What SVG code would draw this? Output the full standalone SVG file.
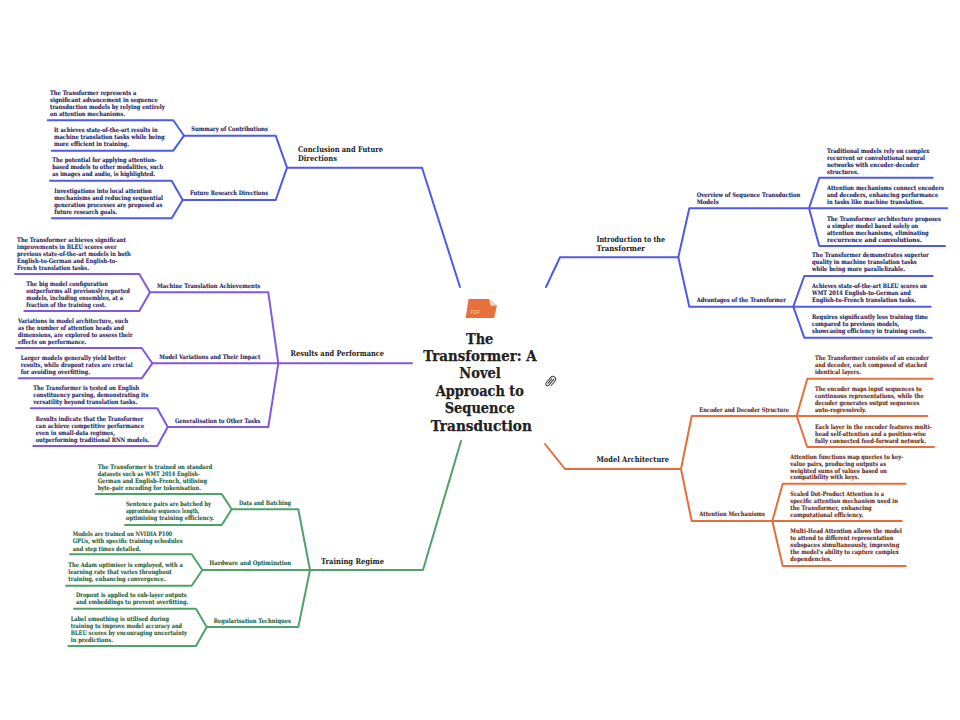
<svg xmlns="http://www.w3.org/2000/svg" width="960" height="720" viewBox="0 0 960 720">
<style>
text{font-family:"DejaVu Serif","Liberation Serif",serif;font-weight:700}
path{fill:none;stroke-linejoin:round;stroke-linecap:round}
.c-blue path{stroke:#4f5be6;stroke-width:2}
.c-purple path{stroke:#8259de;stroke-width:2}
.c-green path{stroke:#4fa269;stroke-width:2}
.c-orange path{stroke:#e56f3c;stroke-width:2}
.leaf{font-size:6.2px}
.sub{font-size:6.2px}
.main{font-size:7.8px;fill:#222}
.title{font-size:14.2px;fill:#222;stroke:#222;stroke-width:.25;text-anchor:middle}
.tb{fill:#25235f;stroke:#25235f;stroke-width:.1}
.tp{fill:#2d1f63;stroke:#2d1f63;stroke-width:.1}
.tg{fill:#1f5f3c;stroke:#1f5f3c;stroke-width:.1}
.to{fill:#65291c;stroke:#65291c;stroke-width:.1}
</style>
<rect width="960" height="720" fill="#fff"/>
<g id="connectors">
<g class="c-blue">
<path d="M460 287L422 167.7H287"/>
<path d="M287 167.7L275.7 135.7H184M287 167.7L275.7 200H182.7"/>
<path d="M47.7 120.3H173.3L184 135.7L173.3 150.7H51.7"/>
<path d="M50 180.7H171.7L182.7 200L171.7 218.3H52"/>
<path d="M546 287L560 257.3H678.3"/>
<path d="M678.3 257.3L689.3 208.3H809M678.3 257.3L689.3 306.7H793.3"/>
<path d="M932.7 177.7H819.3L809 208.3H947.3M809 208.3L819.3 246H945"/>
<path d="M932.7 276H804.3L793.3 306.7H930.7M793.3 306.7L804.3 337.7H931.7"/>
</g>
<g class="c-purple">
<path d="M412 363.3H278.3"/>
<path d="M278.3 363.3L268.3 292.3H150M278.3 363.3H152.3M278.3 363.3L268.3 427H167.7"/>
<path d="M15 274H139.3L150 292.3L139.3 311H24.3"/>
<path d="M16 348H141.7L152.3 363.3L141.7 378.3H18.7"/>
<path d="M30.7 408.3H157.3L167.7 427L157.3 446H33.3"/>
</g>
<g class="c-green">
<path d="M461 441L423 570H310"/>
<path d="M310 570L298.3 509.3H231.7M310 570H202.3M310 570L298.3 627H206.7"/>
<path d="M95.7 494H221.7L231.7 509.3L221.7 525H125"/>
<path d="M70 554.3H191.7L202.3 570L191.7 585.7H66"/>
<path d="M74 608.7H196L206.7 627L196 646H68.3"/>
</g>
<g class="c-orange">
<path d="M545 444L565 469H681"/>
<path d="M681 469L691.7 416H796.7M681 469L691.7 521H772.3"/>
<path d="M932.7 378.7H807.3L796.7 416H927.3M796.7 416L807.3 447H934"/>
<path d="M905.7 483.7H782.7L772.3 521H901.7M772.3 521L782.7 566H905.7"/>
</g>
</g>
<g id="root">
<path d="M468.5 299H489L497 305.7L494 318H465.7Z" style="fill:#e8703a"/>
<path d="M489 299L497 305.7H490.7Z" style="fill:#ecd3c8"/>
<text x="470.5" y="314" style="font-size:4.6px;fill:#f6cdb8;font-family:'Liberation Sans',sans-serif;font-weight:400;font-style:italic">PDF</text>
<text class="title" x="479.7" y="343.5" textLength="27.3" lengthAdjust="spacingAndGlyphs">The</text>
<text class="title" x="480" y="361" textLength="113.4" lengthAdjust="spacingAndGlyphs">Transformer: A</text>
<text class="title" x="480" y="378" textLength="41.4" lengthAdjust="spacingAndGlyphs">Novel</text>
<text class="title" x="479.8" y="395.5" textLength="88.3" lengthAdjust="spacingAndGlyphs">Approach to</text>
<text class="title" x="479.7" y="413" textLength="70" lengthAdjust="spacingAndGlyphs">Sequence</text>
<text class="title" x="481.3" y="430.5" textLength="101.3" lengthAdjust="spacingAndGlyphs">Transduction</text>
<path transform="translate(550.7 381.7) rotate(40) scale(.78) translate(-552 -381.7)" d="M553 377V386.5A2.3 2.3 0 0 1 548.4 386.5V377.5A3.6 3.6 0 0 1 555.6 377.5V385M550.7 378V385.5" style="stroke:#3c3c3c;stroke-width:1.3"/>
</g>
<g id="branch-conclusion">
<text class="main" x="298" y="152" textLength="85" lengthAdjust="spacingAndGlyphs">Conclusion and Future</text>
<text class="main" x="298" y="161" textLength="39" lengthAdjust="spacingAndGlyphs">Directions</text>
</g>
<g id="sub-summary">
<text class="sub tb" x="191.3" y="131" textLength="76.7" lengthAdjust="spacingAndGlyphs">Summary of Contributions</text>
<text class="leaf tb" x="50" y="95" textLength="86.3" lengthAdjust="spacingAndGlyphs">The Transformer represents a</text>
<text class="leaf tb" x="50" y="102" textLength="107.7" lengthAdjust="spacingAndGlyphs">significant advancement in sequence</text>
<text class="leaf tb" x="50" y="109" textLength="114.7" lengthAdjust="spacingAndGlyphs">transduction models by relying entirely</text>
<text class="leaf tb" x="50" y="116" textLength="75" lengthAdjust="spacingAndGlyphs">on attention mechanisms.</text>
<text class="leaf tb" x="54" y="132" textLength="103.7" lengthAdjust="spacingAndGlyphs">It achieves state-of-the-art results in</text>
<text class="leaf tb" x="54" y="139" textLength="110.7" lengthAdjust="spacingAndGlyphs">machine translation tasks while being</text>
<text class="leaf tb" x="54" y="146" textLength="75" lengthAdjust="spacingAndGlyphs">more efficient in training.</text>
</g>
<g id="sub-future">
<text class="sub tb" x="190" y="195" textLength="78" lengthAdjust="spacingAndGlyphs">Future Research Directions</text>
<text class="leaf tb" x="52.3" y="162" textLength="104.4" lengthAdjust="spacingAndGlyphs">The potential for applying attention-</text>
<text class="leaf tb" x="52.3" y="169" textLength="111" lengthAdjust="spacingAndGlyphs">based models to other modalities, such</text>
<text class="leaf tb" x="52.3" y="176" textLength="102.7" lengthAdjust="spacingAndGlyphs">as images and audio, is highlighted.</text>
<text class="leaf tb" x="54.3" y="193" textLength="97.4" lengthAdjust="spacingAndGlyphs">Investigations into local attention</text>
<text class="leaf tb" x="54.3" y="200" textLength="108.7" lengthAdjust="spacingAndGlyphs">mechanisms and reducing sequential</text>
<text class="leaf tb" x="54.3" y="207" textLength="108" lengthAdjust="spacingAndGlyphs">generation processes are proposed as</text>
<text class="leaf tb" x="54.3" y="214" textLength="62.7" lengthAdjust="spacingAndGlyphs">future research goals.</text>
</g>
<g id="branch-results">
<text class="main" x="290.5" y="356" textLength="93.5" lengthAdjust="spacingAndGlyphs">Results and Performance</text>
</g>
<g id="sub-machine">
<text class="sub tp" x="157" y="288" textLength="103.3" lengthAdjust="spacingAndGlyphs">Machine Translation Achievements</text>
<text class="leaf tp" x="17" y="241.5" textLength="109" lengthAdjust="spacingAndGlyphs">The Transformer achieves significant</text>
<text class="leaf tp" x="17" y="248.5" textLength="99.7" lengthAdjust="spacingAndGlyphs">improvements in BLEU scores over</text>
<text class="leaf tp" x="17" y="255.5" textLength="113.7" lengthAdjust="spacingAndGlyphs">previous state-of-the-art models in both</text>
<text class="leaf tp" x="17" y="262.5" textLength="100.3" lengthAdjust="spacingAndGlyphs">English-to-German and English-to-</text>
<text class="leaf tp" x="17" y="269.5" textLength="72" lengthAdjust="spacingAndGlyphs">French translation tasks.</text>
<text class="leaf tp" x="26.3" y="286" textLength="81.7" lengthAdjust="spacingAndGlyphs">The big model configuration</text>
<text class="leaf tp" x="26.3" y="293" textLength="103.7" lengthAdjust="spacingAndGlyphs">outperforms all previously reported</text>
<text class="leaf tp" x="26.3" y="300" textLength="96.7" lengthAdjust="spacingAndGlyphs">models, including ensembles, at a</text>
<text class="leaf tp" x="26.3" y="307" textLength="79.7" lengthAdjust="spacingAndGlyphs">fraction of the training cost.</text>
</g>
<g id="sub-variations">
<text class="sub tp" x="159.3" y="358.5" textLength="101" lengthAdjust="spacingAndGlyphs">Model Variations and Their Impact</text>
<text class="leaf tp" x="18" y="322.5" textLength="110.3" lengthAdjust="spacingAndGlyphs">Variations in model architecture, such</text>
<text class="leaf tp" x="18" y="329.5" textLength="106" lengthAdjust="spacingAndGlyphs">as the number of attention heads and</text>
<text class="leaf tp" x="18" y="336.5" textLength="114.7" lengthAdjust="spacingAndGlyphs">dimensions, are explored to assess their</text>
<text class="leaf tp" x="18" y="343.5" textLength="68.3" lengthAdjust="spacingAndGlyphs">effects on performance.</text>
<text class="leaf tp" x="20.7" y="360" textLength="105.3" lengthAdjust="spacingAndGlyphs">Larger models generally yield better</text>
<text class="leaf tp" x="20.7" y="367" textLength="112" lengthAdjust="spacingAndGlyphs">results, while dropout rates are crucial</text>
<text class="leaf tp" x="20.7" y="374" textLength="69.3" lengthAdjust="spacingAndGlyphs">for avoiding overfitting.</text>
</g>
<g id="sub-generalisation">
<text class="sub tp" x="175" y="422.5" textLength="85.3" lengthAdjust="spacingAndGlyphs">Generalisation to Other Tasks</text>
<text class="leaf tp" x="33.3" y="390" textLength="106" lengthAdjust="spacingAndGlyphs">The Transformer is tested on English</text>
<text class="leaf tp" x="33.3" y="397" textLength="115" lengthAdjust="spacingAndGlyphs">constituency parsing, demonstrating its</text>
<text class="leaf tp" x="33.3" y="404" textLength="104" lengthAdjust="spacingAndGlyphs">versatility beyond translation tasks.</text>
<text class="leaf tp" x="35.7" y="421" textLength="107.6" lengthAdjust="spacingAndGlyphs">Results indicate that the Transformer</text>
<text class="leaf tp" x="35.7" y="428" textLength="108.6" lengthAdjust="spacingAndGlyphs">can achieve competitive performance</text>
<text class="leaf tp" x="35.7" y="435" textLength="79.3" lengthAdjust="spacingAndGlyphs">even in small-data regimes,</text>
<text class="leaf tp" x="35.7" y="442" textLength="113.6" lengthAdjust="spacingAndGlyphs">outperforming traditional RNN models.</text>
</g>
<g id="branch-training">
<text class="main" x="321" y="563.5" textLength="63" lengthAdjust="spacingAndGlyphs">Training Regime</text>
</g>
<g id="sub-data">
<text class="sub tg" x="239" y="504.5" textLength="52" lengthAdjust="spacingAndGlyphs">Data and Batching</text>
<text class="leaf tg" x="97.7" y="469" textLength="114.6" lengthAdjust="spacingAndGlyphs">The Transformer is trained on standard</text>
<text class="leaf tg" x="97.7" y="476" textLength="102.3" lengthAdjust="spacingAndGlyphs">datasets such as WMT 2014 English-</text>
<text class="leaf tg" x="97.7" y="483" textLength="109.3" lengthAdjust="spacingAndGlyphs">German and English-French, utilising</text>
<text class="leaf tg" x="97.7" y="490" textLength="103.3" lengthAdjust="spacingAndGlyphs">byte-pair encoding for tokenisation.</text>
<text class="leaf tg" x="126" y="506" textLength="85" lengthAdjust="spacingAndGlyphs">Sentence pairs are batched by</text>
<text class="leaf tg" x="126" y="513" textLength="73.3" lengthAdjust="spacingAndGlyphs">approximate sequence length,</text>
<text class="leaf tg" x="126" y="520" textLength="88" lengthAdjust="spacingAndGlyphs">optimising training efficiency.</text>
</g>
<g id="sub-hardware">
<text class="sub tg" x="209.3" y="565" textLength="81.7" lengthAdjust="spacingAndGlyphs">Hardware and Optimization</text>
<text class="leaf tg" x="72.7" y="536" textLength="99.6" lengthAdjust="spacingAndGlyphs">Models are trained on NVIDIA P100</text>
<text class="leaf tg" x="72.7" y="543" textLength="110" lengthAdjust="spacingAndGlyphs">GPUs, with specific training schedules</text>
<text class="leaf tg" x="72.7" y="550.5" textLength="68" lengthAdjust="spacingAndGlyphs">and step times detailed.</text>
<text class="leaf tg" x="68.3" y="567" textLength="114.4" lengthAdjust="spacingAndGlyphs">The Adam optimiser is employed, with a</text>
<text class="leaf tg" x="68.3" y="574" textLength="103.4" lengthAdjust="spacingAndGlyphs">learning rate that varies throughout</text>
<text class="leaf tg" x="68.3" y="581" textLength="97.4" lengthAdjust="spacingAndGlyphs">training, enhancing convergence.</text>
</g>
<g id="sub-regularisation">
<text class="sub tg" x="213.7" y="622.5" textLength="77.3" lengthAdjust="spacingAndGlyphs">Regularisation Techniques</text>
<text class="leaf tg" x="76" y="597" textLength="110.7" lengthAdjust="spacingAndGlyphs">Dropout is applied to sub-layer outputs</text>
<text class="leaf tg" x="76" y="604" textLength="112.3" lengthAdjust="spacingAndGlyphs">and embeddings to prevent overfitting.</text>
<text class="leaf tg" x="70.7" y="620.5" textLength="98.3" lengthAdjust="spacingAndGlyphs">Label smoothing is utilised during</text>
<text class="leaf tg" x="70.7" y="627.5" textLength="111.3" lengthAdjust="spacingAndGlyphs">training to improve model accuracy and</text>
<text class="leaf tg" x="70.7" y="634.5" textLength="116.3" lengthAdjust="spacingAndGlyphs">BLEU scores by encouraging uncertainty</text>
<text class="leaf tg" x="70.7" y="641.5" textLength="42.3" lengthAdjust="spacingAndGlyphs">in predictions.</text>
</g>
<g id="branch-intro">
<text class="main" x="596.5" y="242" textLength="68.5" lengthAdjust="spacingAndGlyphs">Introduction to the</text>
<text class="main" x="596.5" y="251" textLength="48.5" lengthAdjust="spacingAndGlyphs">Transformer</text>
</g>
<g id="sub-overview">
<text class="sub tb" x="696.7" y="197" textLength="103.6" lengthAdjust="spacingAndGlyphs">Overview of Sequence Transduction</text>
<text class="sub tb" x="696.7" y="204" textLength="22" lengthAdjust="spacingAndGlyphs">Models</text>
<text class="leaf tb" x="827" y="152.5" textLength="102.3" lengthAdjust="spacingAndGlyphs">Traditional models rely on complex</text>
<text class="leaf tb" x="827" y="159.5" textLength="98" lengthAdjust="spacingAndGlyphs">recurrent or convolutional neural</text>
<text class="leaf tb" x="827" y="166.5" textLength="92" lengthAdjust="spacingAndGlyphs">networks with encoder-decoder</text>
<text class="leaf tb" x="827" y="173.5" textLength="31.7" lengthAdjust="spacingAndGlyphs">structures.</text>
<text class="leaf tb" x="827" y="190" textLength="117" lengthAdjust="spacingAndGlyphs">Attention mechanisms connect encoders</text>
<text class="leaf tb" x="827" y="197" textLength="111.3" lengthAdjust="spacingAndGlyphs">and decoders, enhancing performance</text>
<text class="leaf tb" x="827" y="204" textLength="96.7" lengthAdjust="spacingAndGlyphs">in tasks like machine translation.</text>
<text class="leaf tb" x="827" y="221" textLength="114" lengthAdjust="spacingAndGlyphs">The Transformer architecture proposes</text>
<text class="leaf tb" x="827" y="228" textLength="91.3" lengthAdjust="spacingAndGlyphs">a simpler model based solely on</text>
<text class="leaf tb" x="827" y="235" textLength="101.7" lengthAdjust="spacingAndGlyphs">attention mechanisms, eliminating</text>
<text class="leaf tb" x="827" y="242" textLength="94.7" lengthAdjust="spacingAndGlyphs">recurrence and convolutions.</text>
</g>
<g id="sub-advantages">
<text class="sub tb" x="696.7" y="302" textLength="89.3" lengthAdjust="spacingAndGlyphs">Advantages of the Transformer</text>
<text class="leaf tb" x="812" y="257" textLength="116.7" lengthAdjust="spacingAndGlyphs">The Transformer demonstrates superior</text>
<text class="leaf tb" x="812" y="264" textLength="104.7" lengthAdjust="spacingAndGlyphs">quality in machine translation tasks</text>
<text class="leaf tb" x="812" y="271" textLength="93" lengthAdjust="spacingAndGlyphs">while being more parallelizable.</text>
<text class="leaf tb" x="812" y="288" textLength="115" lengthAdjust="spacingAndGlyphs">Achieves state-of-the-art BLEU scores on</text>
<text class="leaf tb" x="812" y="295" textLength="98.7" lengthAdjust="spacingAndGlyphs">WMT 2014 English-to-German and</text>
<text class="leaf tb" x="812" y="302" textLength="104" lengthAdjust="spacingAndGlyphs">English-to-French translation tasks.</text>
<text class="leaf tb" x="812" y="319" textLength="116" lengthAdjust="spacingAndGlyphs">Requires significantly less training time</text>
<text class="leaf tb" x="812" y="326" textLength="87.3" lengthAdjust="spacingAndGlyphs">compared to previous models,</text>
<text class="leaf tb" x="812" y="333" textLength="114" lengthAdjust="spacingAndGlyphs">showcasing efficiency in training costs.</text>
</g>
<g id="branch-model">
<text class="main" x="596.5" y="462" textLength="72.5" lengthAdjust="spacingAndGlyphs">Model Architecture</text>
</g>
<g id="sub-encoder">
<text class="sub to" x="699.3" y="411.5" textLength="89.7" lengthAdjust="spacingAndGlyphs">Encoder and Decoder Structure</text>
<text class="leaf to" x="815" y="360" textLength="114" lengthAdjust="spacingAndGlyphs">The Transformer consists of an encoder</text>
<text class="leaf to" x="815" y="367" textLength="112" lengthAdjust="spacingAndGlyphs">and decoder, each composed of stacked</text>
<text class="leaf to" x="815" y="374" textLength="46" lengthAdjust="spacingAndGlyphs">identical layers.</text>
<text class="leaf to" x="815" y="391" textLength="106.7" lengthAdjust="spacingAndGlyphs">The encoder maps input sequences to</text>
<text class="leaf to" x="815" y="398" textLength="108.7" lengthAdjust="spacingAndGlyphs">continuous representations, while the</text>
<text class="leaf to" x="815" y="405" textLength="104.3" lengthAdjust="spacingAndGlyphs">decoder generates output sequences</text>
<text class="leaf to" x="815" y="412" textLength="51.3" lengthAdjust="spacingAndGlyphs">auto-regressively.</text>
<text class="leaf to" x="815" y="428.5" textLength="116.7" lengthAdjust="spacingAndGlyphs">Each layer in the encoder features multi-</text>
<text class="leaf to" x="815" y="435.5" textLength="111" lengthAdjust="spacingAndGlyphs">head self-attention and a position-wise</text>
<text class="leaf to" x="815" y="442.5" textLength="111" lengthAdjust="spacingAndGlyphs">fully connected feed-forward network.</text>
</g>
<g id="sub-attention">
<text class="sub to" x="699.3" y="516" textLength="65.7" lengthAdjust="spacingAndGlyphs">Attention Mechanisms</text>
<text class="leaf to" x="790.3" y="459" textLength="113" lengthAdjust="spacingAndGlyphs">Attention functions map queries to key-</text>
<text class="leaf to" x="790.3" y="465.7" textLength="95.7" lengthAdjust="spacingAndGlyphs">value pairs, producing outputs as</text>
<text class="leaf to" x="790.3" y="472.5" textLength="96.7" lengthAdjust="spacingAndGlyphs">weighted sums of values based on</text>
<text class="leaf to" x="790.3" y="479.3" textLength="69" lengthAdjust="spacingAndGlyphs">compatibility with keys.</text>
<text class="leaf to" x="790.3" y="496" textLength="93.7" lengthAdjust="spacingAndGlyphs">Scaled Dot-Product Attention is a</text>
<text class="leaf to" x="790.3" y="503" textLength="107.7" lengthAdjust="spacingAndGlyphs">specific attention mechanism used in</text>
<text class="leaf to" x="790.3" y="510" textLength="81.4" lengthAdjust="spacingAndGlyphs">the Transformer, enhancing</text>
<text class="leaf to" x="790.3" y="517" textLength="73" lengthAdjust="spacingAndGlyphs">computational efficiency.</text>
<text class="leaf to" x="790.3" y="533" textLength="111.7" lengthAdjust="spacingAndGlyphs">Multi-Head Attention allows the model</text>
<text class="leaf to" x="790.3" y="540" textLength="103" lengthAdjust="spacingAndGlyphs">to attend to different representation</text>
<text class="leaf to" x="790.3" y="547" textLength="109" lengthAdjust="spacingAndGlyphs">subspaces simultaneously, improving</text>
<text class="leaf to" x="790.3" y="554" textLength="108.4" lengthAdjust="spacingAndGlyphs">the model's ability to capture complex</text>
<text class="leaf to" x="790.3" y="561" textLength="41.4" lengthAdjust="spacingAndGlyphs">dependencies.</text>
</g>
</svg>
